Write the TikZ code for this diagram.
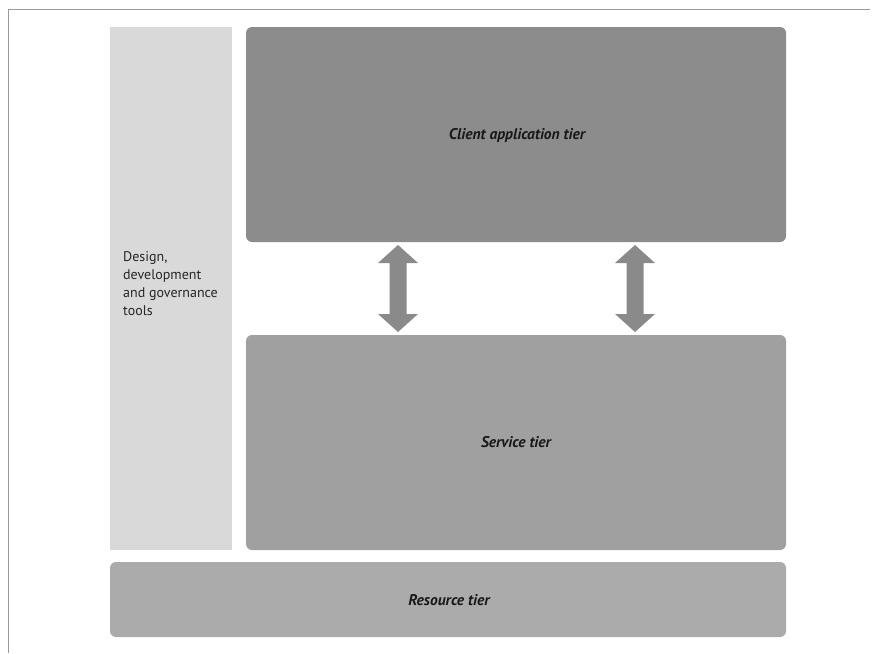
\documentclass[tikz,border=0pt]{standalone}
\usepackage{fontspec}
\setmainfont{PT Sans}
\begin{document}
\begin{tikzpicture}[x=1pt,y=-1pt,
  tier/.style={rounded corners=6pt},
  tierlabel/.style={font=\fontsize{15.5}{18}\selectfont\bfseries\itshape, text=black!90},
  dbl/.style={fill=arrowgray}]
\definecolor{toolsgray}{HTML}{D9D9D9}
\definecolor{clientgray}{HTML}{8C8C8C}
\definecolor{servicegray}{HTML}{A0A0A0}
\definecolor{resourcegray}{HTML}{ABABAB}
\definecolor{arrowgray}{HTML}{8A8A8A}
\definecolor{framegray}{HTML}{9A9A9A}
\useasboundingbox (0,0) rectangle (875,653);
\fill[white] (0,0) rectangle (875,653);
% frame lines
\coordinate (tl) at (8,9);
\coordinate (tr) at (870,9);
\coordinate (bl) at (8,653);
\draw[framegray, line width=0.8pt] (bl) -- (tl) -- (tr);
% boxes
\fill[toolsgray] (110,27) rectangle (232,550);
\node[anchor=north west, inner sep=0pt, align=left, font=\fontsize{14}{18}\selectfont, text=black!85] (tools) at (123,251) {Design,\\development\\and governance\\tools};
\fill[clientgray, tier] (246,27) rectangle (786,242);
\node[tierlabel] (client) at (517,136) {Client application tier};
\fill[servicegray, tier] (246,335) rectangle (786,550);
\node[tierlabel] (service) at (516,442) {Service tier};
\fill[resourcegray, tier] (110,562) rectangle (786,637);
\node[tierlabel] (resource) at (449,600) {Resource tier};
% double arrows
\foreach \cx in {398,635}{
  \fill[dbl] (\cx,245) -- (\cx+20,263) -- (\cx+8.5,263) -- (\cx+8.5,314) -- (\cx+20,314) -- (\cx,332)
     -- (\cx-20,314) -- (\cx-8.5,314) -- (\cx-8.5,263) -- (\cx-20,263) -- cycle;
}
\end{tikzpicture}
\end{document}
